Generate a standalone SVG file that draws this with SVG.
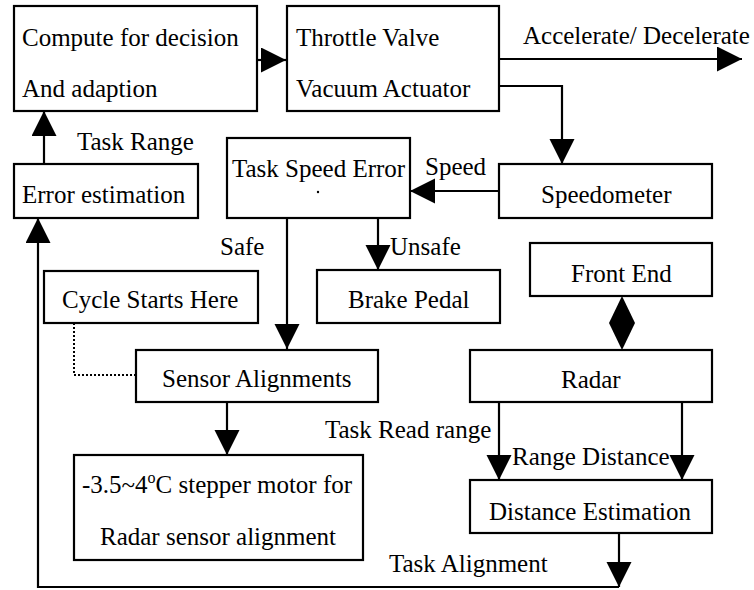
<svg xmlns="http://www.w3.org/2000/svg" width="754" height="590" viewBox="0 0 754 590" font-family="'Liberation Serif', 'DejaVu Serif', serif" font-size="25">
<style>
rect.box{fill:#fff;stroke:#000;stroke-width:2.2}
text{fill:#000}
.ln{fill:none;stroke:#000;stroke-width:2.2}
.dot{fill:none;stroke:#000;stroke-width:2;stroke-dasharray:2 2}
</style>
<defs>
<marker id="ah" markerUnits="userSpaceOnUse" markerWidth="26" markerHeight="26" viewBox="0 0 26 26" refX="25" refY="12.5" orient="auto">
<path d="M0,0 L25,12.5 L0,25 z" fill="#000"/>
</marker>
</defs>
<rect width="754" height="590" fill="#fff"/>
<g id="connectors">
<line class="ln" x1="257" y1="60" x2="286" y2="60" marker-end="url(#ah)"/>
<line class="ln" x1="499" y1="59" x2="742" y2="59" marker-end="url(#ah)"/>
<polyline class="ln" points="499,86 562,86 562,164" marker-end="url(#ah)"/>
<line class="ln" x1="499" y1="191" x2="410" y2="191" marker-end="url(#ah)"/>
<line class="ln" x1="44" y1="164" x2="44" y2="111" marker-end="url(#ah)"/>
<line class="ln" x1="287" y1="218" x2="287" y2="349" marker-end="url(#ah)"/>
<line class="ln" x1="378" y1="218" x2="378" y2="270" marker-end="url(#ah)"/>
<polyline class="dot" points="74,323 74,375 136,375"/>
<line class="ln" x1="227" y1="402" x2="227" y2="455" marker-end="url(#ah)"/>
<line class="ln" x1="499" y1="402" x2="499" y2="480" marker-end="url(#ah)"/>
<line class="ln" x1="682" y1="402" x2="682" y2="480" marker-end="url(#ah)"/>
<polygon points="622,296 635,323 622,350 609,323" fill="#000"/>
<line class="ln" x1="619" y1="533" x2="619" y2="587" marker-end="url(#ah)"/>
<polyline class="ln" points="619,587 38,587 38,218" marker-end="url(#ah)"/>
<text x="523" y="44">Accelerate/ Decelerate</text>
<text x="77" y="150">Task Range</text>
<text x="425" y="175">Speed</text>
<text x="220" y="255">Safe</text>
<text x="390" y="255">Unsafe</text>
<text x="325" y="438">Task Read range</text>
<text x="512" y="465">Range Distance</text>
<text x="389" y="572">Task Alignment</text>
</g>
<g id="compute">
<rect class="box" x="14" y="6" width="243" height="105"/>
<text x="22" y="46">Compute for decision</text>
<text x="22" y="97">And adaption</text>
</g>
<g id="throttle">
<rect class="box" x="287" y="6" width="212" height="105"/>
<text x="296" y="46">Throttle Valve</text>
<text x="296" y="97">Vacuum Actuator</text>
</g>
<g id="error-estimation">
<rect class="box" x="14" y="164" width="184" height="54"/>
<text x="22" y="203">Error estimation</text>
</g>
<g id="task-speed-error">
<rect class="box" x="227" y="138" width="183" height="80"/>
<text x="232" y="177">Task Speed Error</text>
<circle cx="318" cy="192" r="1.2" fill="#000"/>
</g>
<g id="speedometer">
<rect class="box" x="499" y="164" width="213" height="54"/>
<text x="541" y="203">Speedometer</text>
</g>
<g id="cycle-start">
<rect class="box" x="44" y="271" width="214" height="52"/>
<text x="62" y="308">Cycle Starts Here</text>
</g>
<g id="brake-pedal">
<rect class="box" x="317" y="270" width="183" height="53"/>
<text x="348" y="308">Brake Pedal</text>
</g>
<g id="front-end">
<rect class="box" x="530" y="243" width="182" height="53"/>
<text x="571" y="282">Front End</text>
</g>
<g id="sensor-alignments">
<rect class="box" x="136" y="350" width="242" height="52"/>
<text x="162" y="387">Sensor Alignments</text>
</g>
<g id="radar">
<rect class="box" x="470" y="350" width="242" height="52"/>
<text x="561" y="388">Radar</text>
</g>
<g id="stepper-motor">
<rect class="box" x="74" y="455" width="289" height="105"/>
<text x="82" y="493">-3.5~4<tspan font-size="16" dy="-10">o</tspan><tspan dy="10">C stepper motor for</tspan></text>
<text x="100" y="545">Radar sensor alignment</text>
</g>
<g id="distance-estimation">
<rect class="box" x="470" y="480" width="242" height="53"/>
<text x="489" y="520">Distance Estimation</text>
</g>
</svg>
